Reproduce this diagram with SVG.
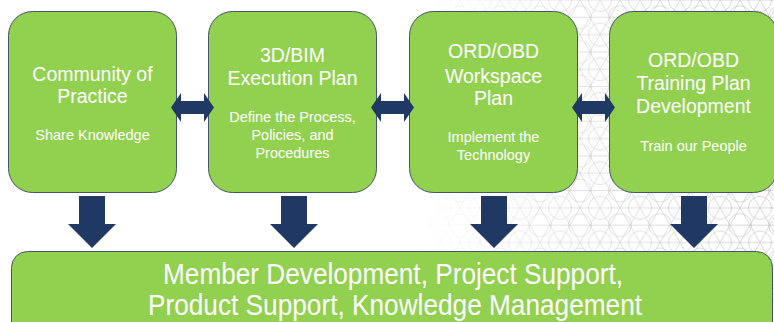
<svg xmlns="http://www.w3.org/2000/svg" width="774" height="322" viewBox="0 0 774 322">
  <defs>
    <style>
      .box { fill: #92D050; stroke: #44546A; stroke-width: 1; }
      .arrow { fill: #203864; }
      .t { font-family: "Liberation Sans", Arial, sans-serif; fill: #FFFFFF; text-anchor: middle; }
      .title { font-size: 19.5px; }
      .sub { font-size: 14.5px; }
      .big { font-size: 30px; }
    </style>
    <pattern id="geo" width="40" height="34.64" patternUnits="userSpaceOnUse">
      <g fill="none" stroke="#c4c4c4" stroke-width="0.7">
        <path d="M0 0 L40 0 M0 17.32 L40 17.32 M0 34.64 L40 34.64"/>
        <path d="M0 0 L20 34.64 M20 0 L40 34.64 M-20 0 L0 34.64"/>
        <path d="M40 0 L20 34.64 M20 0 L0 34.64 M60 0 L40 34.64"/>
        <circle cx="20" cy="17.32" r="11.5"/>
        <circle cx="0" cy="0" r="11.5"/>
        <circle cx="40" cy="0" r="11.5"/>
        <circle cx="0" cy="34.64" r="11.5"/>
        <circle cx="40" cy="34.64" r="11.5"/>
      </g>
    </pattern>
    <linearGradient id="fade" x1="0" y1="0" x2="1" y2="0">
      <stop offset="0" stop-color="#fff" stop-opacity="0"/>
      <stop offset="0.4" stop-color="#fff" stop-opacity="0.7"/>
      <stop offset="1" stop-color="#fff" stop-opacity="1"/>
    </linearGradient>
    <mask id="fadeMask">
      <rect x="420" y="0" width="354" height="322" fill="url(#fade)"/>
    </mask>
  </defs>

  <rect x="0" y="0" width="774" height="322" fill="#FFFFFF"/>
  <rect x="420" y="0" width="354" height="322" fill="url(#geo)" mask="url(#fadeMask)"/>

  <g id="community">
    <rect class="box" x="8.5" y="11.5" width="168" height="181" rx="24" ry="24"/>
    <text class="t title" x="92.5" y="80.5">Community of</text>
    <text class="t title" x="92.5" y="102.5">Practice</text>
    <text class="t sub" x="92.5" y="139.5">Share Knowledge</text>
  </g>

  <g id="bim">
    <rect class="box" x="208.5" y="11.5" width="168" height="181" rx="24" ry="24"/>
    <text class="t title" x="292.5" y="62">3D/BIM</text>
    <text class="t title" x="292.5" y="85">Execution Plan</text>
    <text class="t sub" x="292.5" y="121.5">Define the Process,</text>
    <text class="t sub" x="292.5" y="139.5">Policies, and</text>
    <text class="t sub" x="292.5" y="157.5">Procedures</text>
  </g>

  <g id="workspace">
    <rect class="box" x="409.5" y="11.5" width="168" height="181" rx="24" ry="24"/>
    <text class="t title" x="493.5" y="57.5">ORD/OBD</text>
    <text class="t title" x="493.5" y="82.5">Workspace</text>
    <text class="t title" x="493.5" y="105">Plan</text>
    <text class="t sub" x="493.5" y="142">Implement the</text>
    <text class="t sub" x="493.5" y="160">Technology</text>
  </g>

  <g id="training">
    <rect class="box" x="609.5" y="11.5" width="168" height="181" rx="24" ry="24"/>
    <text class="t title" x="693.5" y="66.5">ORD/OBD</text>
    <text class="t title" x="693.5" y="89.5">Training Plan</text>
    <text class="t title" x="693.5" y="113">Development</text>
    <text class="t sub" x="693.5" y="150.5">Train our People</text>
  </g>

  <g id="outcomes">
    <rect class="box" x="11.5" y="251.5" width="761" height="90" rx="16" ry="16"/>
    <text class="t big" x="393" y="284" textLength="460" lengthAdjust="spacingAndGlyphs">Member Development, Project Support,</text>
    <text class="t big" x="395" y="314.5" textLength="494" lengthAdjust="spacingAndGlyphs">Product Support, Knowledge Management</text>
  </g>

  <g id="connectors">
    <!-- horizontal double arrows -->
    <path class="arrow" d="M171 107.5 L181 93 L181 101 L204 101 L204 93 L214 107.5 L204 122 L204 114 L181 114 L181 122 Z"/>
    <path class="arrow" d="M371 107.5 L381 93 L381 101 L404 101 L404 93 L414 107.5 L404 122 L404 114 L381 114 L381 122 Z"/>
    <path class="arrow" d="M572 107.5 L582 93 L582 101 L605 101 L605 93 L615 107.5 L605 122 L605 114 L582 114 L582 122 Z"/>
    <!-- down arrows -->
    <path class="arrow" d="M79 196 L105 196 L105 224 L116 224 L92 248 L68 224 L79 224 Z"/>
    <path class="arrow" d="M281 196 L307 196 L307 224 L318 224 L294 248 L270 224 L281 224 Z"/>
    <path class="arrow" d="M481 196 L507 196 L507 224 L518 224 L494 248 L470 224 L481 224 Z"/>
    <path class="arrow" d="M681 196 L707 196 L707 224 L718 224 L694 248 L670 224 L681 224 Z"/>
  </g>
</svg>
